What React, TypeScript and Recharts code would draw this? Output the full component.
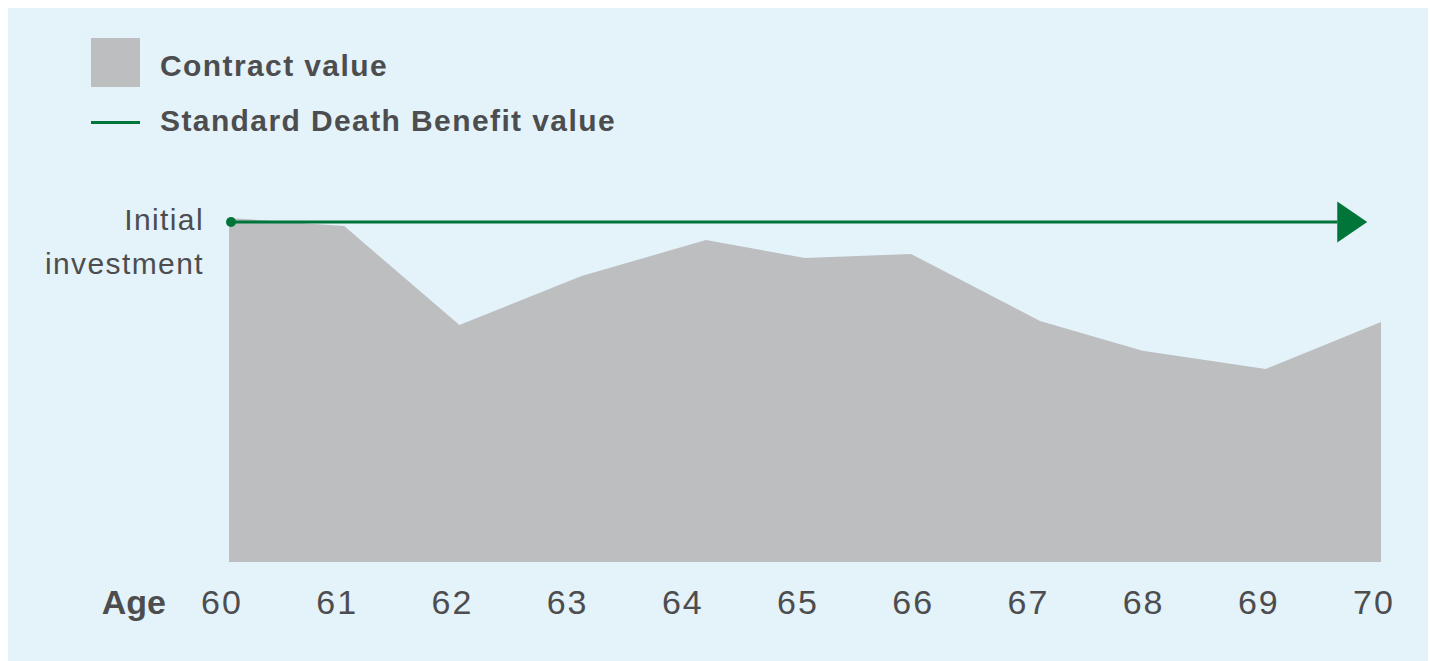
import { ComposedChart, Area, Line, XAxis, YAxis } from 'recharts'

const contractAges = [60, 61, 62, 63.06, 64.14, 65, 65.92, 67.04, 67.93, 69, 70]
const contractValues = [101.2, 98.8, 69.7, 84.1, 94.7, 89.4, 90.6, 70.9, 62.1, 56.8, 70.6]
const benefitAges = [60, 69.62]
const benefitValues = [100, 100]
const ageTicks = [60, 61, 62, 63, 64, 65, 66, 67, 68, 69, 70]
const legendLabels = ['Contract value', 'Standard Death Benefit value']

const contractData = contractAges.map((age, i) => ({ age, value: contractValues[i] }))
const benefitData = benefitAges.map((age, i) => ({ age, value: benefitValues[i] }))

const TEXT = '#4d4d4f'
const GREEN = '#00753a'
const GRAY = '#bdbec0'
const FONT = '"Liberation Sans", Arial, sans-serif'

function AgeTick({ x, y, payload }: any) {
  return (
    <text
      x={x - 7}
      y={y}
      dy={44}
      textAnchor="middle"
      fill={TEXT}
      fontSize={34}
      fontFamily={FONT}
      letterSpacing={2}
    >
      {payload.value}
    </text>
  )
}

function InvestmentTick({ y }: any) {
  return (
    <text textAnchor="end" fill={TEXT} fontSize={30} fontFamily={FONT} letterSpacing={1.4}>
      <tspan x={196} y={y + 8}>Initial</tspan>
      <tspan x={196} y={y + 52}>investment</tspan>
    </text>
  )
}

function BenefitDot(props: any) {
  const { cx, cy, index } = props
  if (index === 0) {
    return <circle key="start" cx={cx + 2} cy={cy} r={5} fill={GREEN} />
  }
  return (
    <polygon
      key="arrow"
      points={`${cx},${cy - 20.5} ${cx + 30},${cy} ${cx},${cy + 20.5}`}
      fill={GREEN}
    />
  )
}

export default function App() {
  return (
    <>
      <style>{'body{margin:0;overflow:hidden}'}</style>
      <div style={{ paddingLeft: 8, paddingTop: 8 }}>
        <div
          style={{
            position: 'relative',
            width: 1420,
            height: 653,
            background: '#e3f3f9',
            fontFamily: FONT,
            color: TEXT,
          }}
        >
          <div style={{ position: 'absolute', left: 83, top: 30, width: 49, height: 49, background: GRAY }} />
          <div style={{ position: 'absolute', left: 83, top: 112.5, width: 49, height: 3, background: GREEN }} />
          <div
            style={{
              position: 'absolute',
              left: 152,
              top: 42.6,
              fontSize: 30,
              lineHeight: '30px',
              fontWeight: 700,
              letterSpacing: 1.4,
              whiteSpace: 'nowrap',
            }}
          >
            {legendLabels[0]}
          </div>
          <div
            style={{
              position: 'absolute',
              left: 152,
              top: 97.6,
              fontSize: 30,
              lineHeight: '30px',
              fontWeight: 700,
              letterSpacing: 1.4,
              whiteSpace: 'nowrap',
            }}
          >
            {legendLabels[1]}
          </div>
          <div
            style={{
              position: 'absolute',
              left: 93.7,
              top: 577.2,
              fontSize: 34,
              lineHeight: '34px',
              fontWeight: 700,
            }}
          >
            Age
          </div>
          <ComposedChart
            width={1420}
            height={653}
            margin={{ top: 146, right: 47, bottom: 39, left: 0 }}
            style={{ position: 'absolute', left: 0, top: 0 }}
          >
            <XAxis
              dataKey="age"
              type="number"
              domain={[60, 70]}
              ticks={ageTicks}
              height={60}
              axisLine={false}
              tickLine={false}
              tick={<AgeTick />}
              allowDuplicatedCategory={false}
            />
            <YAxis
              type="number"
              domain={[0, 120]}
              ticks={[100]}
              width={221}
              axisLine={false}
              tickLine={false}
              tick={<InvestmentTick />}
            />
            <Area
              data={contractData}
              dataKey="value"
              type="linear"
              fill={GRAY}
              fillOpacity={1}
              stroke="none"
              isAnimationActive={false}
            />
            <Line
              data={benefitData}
              dataKey="value"
              type="linear"
              stroke={GREEN}
              strokeWidth={3}
              dot={BenefitDot}
              activeDot={false}
              isAnimationActive={false}
            />
          </ComposedChart>
        </div>
      </div>
    </>
  )
}
